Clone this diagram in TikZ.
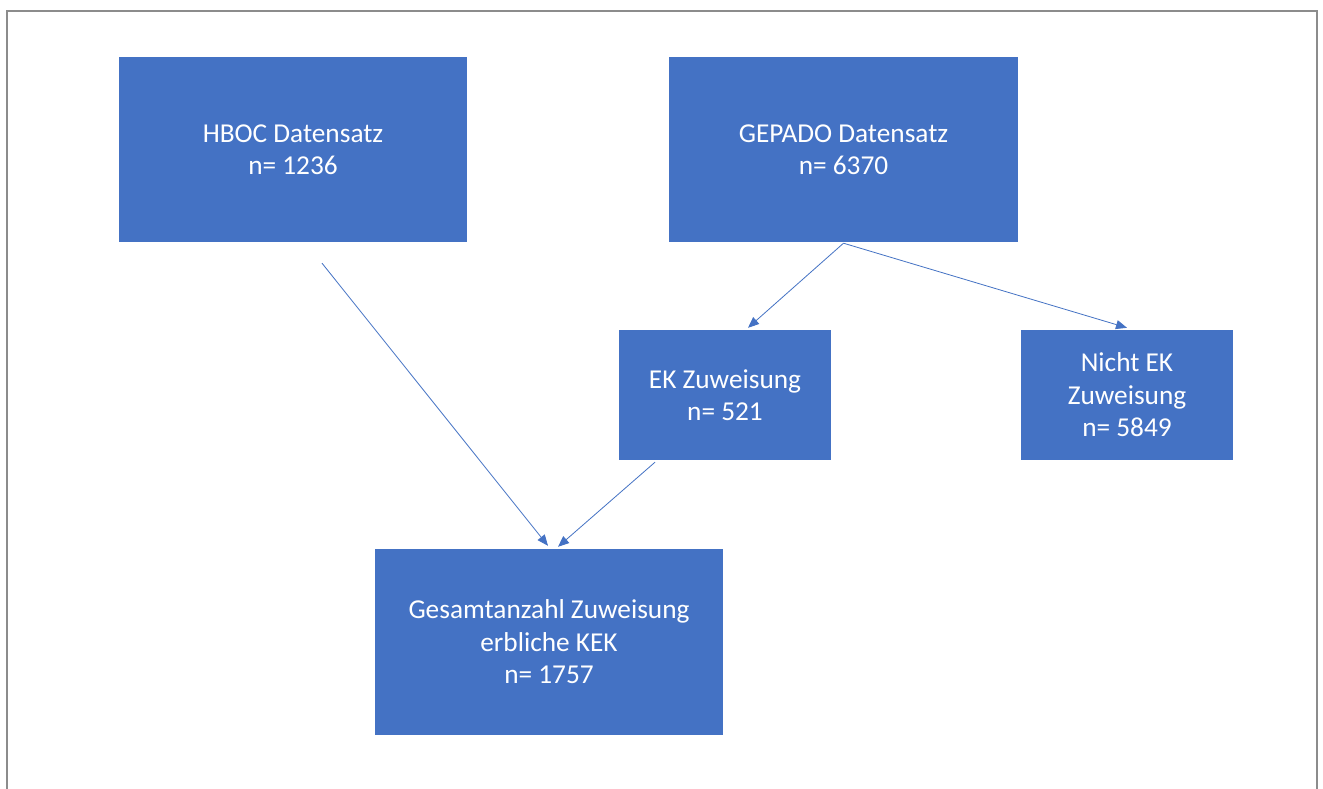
\documentclass[tikz,border=0pt]{standalone}
\usepackage{fontspec}
\setmainfont{Carlito}
\usetikzlibrary{arrows.meta,calc}
\definecolor{boxblue}{HTML}{4472C4}
\definecolor{framegray}{HTML}{8C8C8C}
\tikzset{
  box/.style={rectangle, fill=boxblue, draw=none, text=white, align=center,
    font=\fontsize{27.3}{32.5}\selectfont, inner sep=0pt},
  conn/.style={draw=boxblue, line width=0.8pt, -{Triangle[length=11pt,width=9pt]}}
}
\begin{document}
\begin{tikzpicture}[x=1pt,y=-1pt]
\useasboundingbox (0,0) rectangle (1323,789);
\fill[white] (0,0) rectangle (1323,789);
\draw[framegray, line width=2pt] (7,800) -- (7,11) -- (1317,11) -- (1317,800);
\node[box, minimum width=348pt, minimum height=185pt] (hboc) at (293,149.5) {HBOC Datensatz\\n= 1236};
\node[box, minimum width=349pt, minimum height=185pt] (gepado) at (843.5,149.5) {GEPADO Datensatz\\n= 6370};
\node[box, minimum width=212pt, minimum height=130pt] (ek) at (725,395) {EK Zuweisung\\n= 521};
\node[box, minimum width=212pt, minimum height=130pt] (nek) at (1127,395) {Nicht EK\\Zuweisung\\n= 5849};
\node[box, minimum width=348pt, minimum height=186pt] (ges) at (549,642) {Gesamtanzahl Zuweisung\\erbliche KEK\\n= 1757};
\draw[conn] ($(hboc.south)+(29,21)$) -- ($(ges.north)+(-1,-3)$);
\draw[conn] ($(gepado.south)+(0,1)$) -- ($(ek.north)+(23,-2)$);
\draw[conn] ($(gepado.south)+(0,1)$) -- ($(nek.north)+(0,-2)$);
\draw[conn] ($(ek.south)+(-70,2)$) -- ($(ges.north)+(9,-2)$);
\end{tikzpicture}
\end{document}
